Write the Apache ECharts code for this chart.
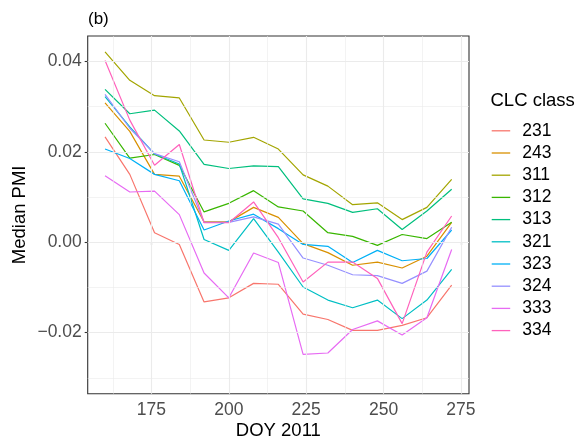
<!DOCTYPE html>
<html>
<head>
<meta charset="utf-8">
<script src="https://cdn.jsdelivr.net/npm/echarts@6/dist/echarts.min.js"></script>
<style>
  html, body { margin: 0; padding: 0; background: #fff; }
  #chart { width: 578px; height: 436px; }
</style>
</head>
<body>
<div id="chart"></div>
<script>
// Day of year (2011) at which the median PMI was computed
const doy = [160, 168, 176, 184, 192, 200, 208, 216, 224, 232, 240, 248, 256, 264, 272];

// Median PMI per CORINE land cover class
const c231 = [0.0233, 0.0150, 0.0021, -0.0005, -0.0132, -0.0123, -0.0091, -0.0093, -0.0159, -0.0171, -0.0195, -0.0195, -0.0184, -0.0167, -0.0095];
const c243 = [0.0308, 0.0245, 0.0150, 0.0146, 0.0045, 0.0045, 0.0077, 0.0055, -0.0003, -0.0023, -0.0051, -0.0044, -0.0057, -0.0031, 0.0044];
const c311 = [0.0421, 0.0358, 0.0324, 0.0319, 0.0226, 0.0221, 0.0232, 0.0206, 0.0149, 0.0124, 0.0083, 0.0087, 0.0050, 0.0077, 0.0139];
const c312 = [0.0263, 0.0186, 0.0194, 0.0170, 0.0067, 0.0086, 0.0114, 0.0078, 0.0069, 0.0021, 0.0013, -0.0007, 0.0017, 0.0008, 0.0044];
const c313 = [0.0338, 0.0284, 0.0292, 0.0246, 0.0172, 0.0163, 0.0169, 0.0167, 0.0096, 0.0086, 0.0066, 0.0074, 0.0028, 0.0069, 0.0117];
const c321 = [0.0322, 0.0255, 0.0195, 0.0173, 0.0006, -0.0018, 0.0052, -0.0022, -0.0099, -0.0128, -0.0145, -0.0128, -0.0169, -0.0128, -0.0060];
const c323 = [0.0206, 0.0185, 0.0150, 0.0136, 0.0027, 0.0047, 0.0062, 0.0030, -0.0005, -0.0009, -0.0045, -0.0018, -0.0041, -0.0036, 0.0027];
const c324 = [0.0327, 0.0252, 0.0196, 0.0178, 0.0044, 0.0044, 0.0056, 0.0040, -0.0035, -0.0051, -0.0072, -0.0074, -0.0091, -0.0064, 0.0033];
const c333 = [0.0147, 0.0111, 0.0113, 0.0061, -0.0068, -0.0123, -0.0024, -0.0045, -0.0248, -0.0245, -0.0193, -0.0174, -0.0205, -0.0167, -0.0016];
const c334 = [0.0402, 0.0270, 0.0170, 0.0216, 0.0043, 0.0043, 0.0089, 0.0010, -0.0088, -0.0044, -0.0044, -0.0080, -0.0180, -0.0022, 0.0058];

const classNames = ['231', '243', '311', '312', '313', '321', '323', '324', '333', '334'];
const classValues = [c231, c243, c311, c312, c313, c321, c323, c324, c333, c334];
const classColors = ['#F8766D', '#D89000', '#A3A500', '#39B600', '#00BF7D',
                     '#00BFC4', '#00B0F6', '#9590FF', '#E76BF3', '#FF62BC'];

// Axis ticks and grid lines
const xTicks = [175, 200, 225, 250, 275];
const xMinor = [162.5, 187.5, 212.5, 237.5, 262.5];
const yTicks = [-0.02, 0.00, 0.02, 0.04];
const yMinor = [-0.03, -0.01, 0.01, 0.03];

const FONT = '"Liberation Sans", Arial, Helvetica, sans-serif';

const fmtY = v => (v < -1e-9 ? '\u2212' : '') + Math.abs(v).toFixed(2);

const gridLines = [];
xMinor.forEach(v => gridLines.push({ xAxis: v, lineStyle: { width: 0.6 } }));
yMinor.forEach(v => gridLines.push({ yAxis: v, lineStyle: { width: 0.6 } }));
xTicks.forEach(v => gridLines.push({ xAxis: v, lineStyle: { width: 1.1 } }));
yTicks.forEach(v => gridLines.push({ yAxis: v, lineStyle: { width: 1.1 } }));

const series = [{
  name: '_grid',
  type: 'line',
  data: [],
  z: 0,
  silent: true,
  markLine: {
    silent: true,
    symbol: ['none', 'none'],
    label: { show: false },
    lineStyle: { color: '#EBEBEB', type: 'solid' },
    emphasis: { disabled: true },
    data: gridLines
  }
}];

classNames.forEach((name, i) => {
  series.push({
    name: name,
    type: 'line',
    data: doy.map((d, k) => [d, classValues[i][k]]),
    showSymbol: false,
    symbol: 'none',
    z: 2,
    lineStyle: { color: classColors[i], width: 1.2 },
    itemStyle: { color: classColors[i] },
    emphasis: { disabled: true }
  });
});

const chart = echarts.init(document.getElementById('chart'), null, { renderer: 'canvas' });
chart.setOption({
  animation: false,
  backgroundColor: '#ffffff',
  title: [
    { text: '(b)', left: 88, top: 11, padding: 0,
      textStyle: { fontFamily: FONT, fontSize: 17, fontWeight: 'normal', color: '#000' } },
    { text: 'CLC class', left: 490.5, top: 91.5, padding: 0,
      textStyle: { fontFamily: FONT, fontSize: 18.5, fontWeight: 'normal', color: '#000' } }
  ],
  grid: {
    left: 87.7, top: 36, right: 109, bottom: 42.3,
    outerBoundsMode: 'none',
    containLabel: false,
    show: true, borderColor: '#333333', borderWidth: 1.1, backgroundColor: '#fff'
  },
  legend: {
    data: classNames,
    orient: 'vertical',
    left: 491.7,
    top: 119.7,
    padding: 0,
    icon: 'rect',
    itemWidth: 18.5,
    itemHeight: 1.3,
    itemGap: 0,
    selectedMode: false,
    textStyle: { fontFamily: FONT, fontSize: 17.5, color: '#000', lineHeight: 22.2, padding: [0, 0, 0, 7] }
  },
  xAxis: {
    type: 'value',
    min: 154.4,
    max: 277.6,
    name: 'DOY 2011',
    nameLocation: 'middle',
    nameGap: 27.5,
    nameMoveOverlap: false,
    nameTextStyle: { fontFamily: FONT, fontSize: 18.5, color: '#000' },
    axisLine: { show: false },
    splitLine: { show: false },
    axisTick: { show: true, length: 3, customValues: xTicks, lineStyle: { color: '#333333', width: 1.1 } },
    axisLabel: { customValues: xTicks, margin: 7, fontFamily: FONT, fontSize: 17.5, color: '#4D4D4D' }
  },
  yAxis: {
    type: 'value',
    min: -0.0335,
    max: 0.0456,
    name: 'Median PMI',
    nameLocation: 'middle',
    nameGap: 58,
    nameMoveOverlap: false,
    nameTextStyle: { fontFamily: FONT, fontSize: 18.5, color: '#000' },
    axisLine: { show: false },
    splitLine: { show: false },
    axisTick: { show: true, length: 3, customValues: yTicks, lineStyle: { color: '#333333', width: 1.1 } },
    axisLabel: { customValues: yTicks, margin: 6, fontFamily: FONT, fontSize: 17.5, color: '#4D4D4D', formatter: fmtY }
  },
  series: series
});
</script>
</body>
</html>
